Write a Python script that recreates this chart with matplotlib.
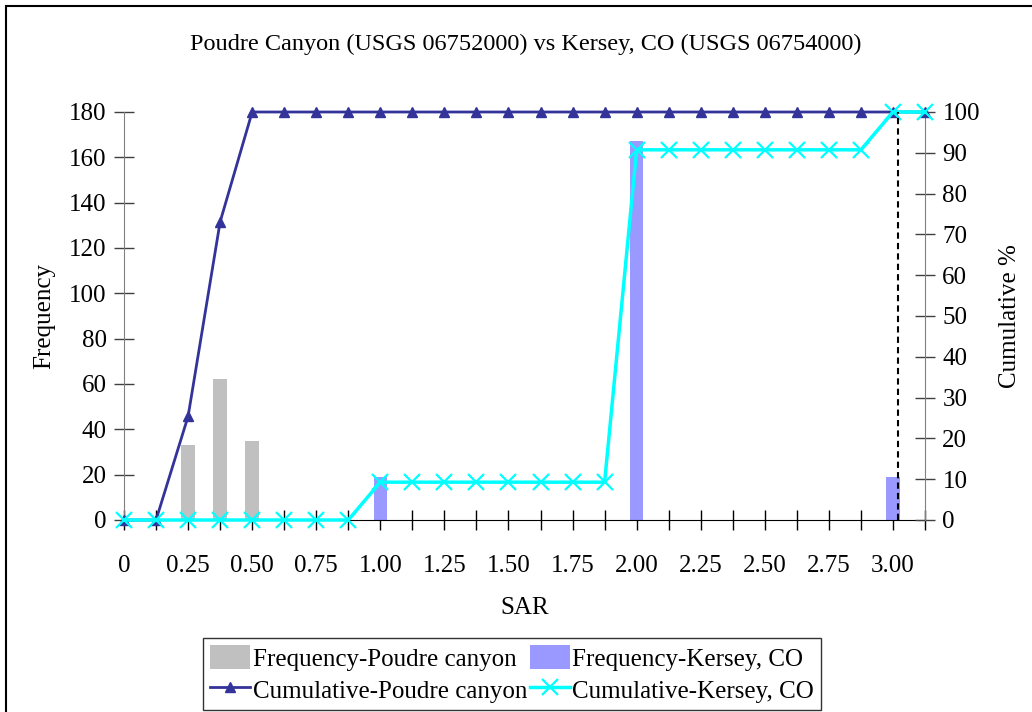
import matplotlib.pyplot as plt
import numpy as np
from matplotlib.patches import Rectangle

plt.rcParams['font.family'] = ['Liberation Serif', 'DejaVu Serif']

# SAR bins, 0 to 3.125 in steps of 0.125
sar = [0, 0.125, 0.25, 0.375, 0.50, 0.625, 0.75, 0.875, 1.00, 1.125, 1.25, 1.375, 1.50,
       1.625, 1.75, 1.875, 2.00, 2.125, 2.25, 2.375, 2.50, 2.625, 2.75, 2.875, 3.00, 3.125]
freq_poudre = [0, 0, 33, 62, 35, 0, 0, 0, 0, 0, 0, 0, 0,
               0, 0, 0, 0, 0, 0, 0, 0, 0, 0, 0, 0, 0]
freq_kersey = [0, 0, 0, 0, 0, 0, 0, 0, 19, 0, 0, 0, 0,
               0, 0, 0, 167, 0, 0, 0, 0, 0, 0, 0, 19, 0]
ref_sar = 3.02

cum_poudre = np.cumsum(freq_poudre) / np.sum(freq_poudre) * 100
cum_kersey = np.cumsum(freq_kersey) / np.sum(freq_kersey) * 100

x = np.arange(len(sar))
step = sar[1] - sar[0]

fig = plt.figure(figsize=(10.32, 7.12), dpi=100)
ax = fig.add_axes([124 / 1032, 1 - 520 / 712, 801 / 1032, 408 / 712])
ax2 = ax.twinx()

b1 = ax.bar(x, freq_poudre, width=0.42, color='#C0C0C0', zorder=2)
b2 = ax.bar(x, freq_kersey, width=0.42, color='#9999FF', zorder=2)

l1, = ax2.plot(x, cum_poudre, color='#333399', lw=2, marker='^', ms=7.5,
               clip_on=False, zorder=3)
l2, = ax2.plot(x, cum_kersey, color='#00FFFF', lw=2.5, marker='x', ms=11,
               mew=1.6, clip_on=False, zorder=4)
ax2.plot([ref_sar / step, ref_sar / step], [0, 100], color='black', lw=1.5,
         ls=(0, (3, 2)), zorder=5)

ax.set_xlim(0, len(sar) - 1)
ax.set_ylim(0, 180)
ax2.set_ylim(0, 100)
ax.set_yticks(range(0, 181, 20))
ax2.set_yticks(range(0, 101, 10))
ax.set_xticks(x)
ax.set_xticklabels(['0' if v == 0 else f'{v:.2f}' if i % 2 == 0 else ''
                    for i, v in enumerate(sar)])

fs = 18
for a in (ax, ax2):
    a.spines['top'].set_visible(False)
    a.tick_params(direction='inout', length=15, width=1, labelsize=fs, pad=5)
ax.tick_params(axis='x', pad=18)
ax.spines['left'].set_color('#808080')
ax2.spines['right'].set_color('#808080')
ax2.spines['left'].set_visible(False)
ax2.spines['bottom'].set_visible(False)
ax.spines['right'].set_visible(False)
ax.tick_params(axis='y', color='#404040')
ax2.tick_params(axis='y', color='#404040')

ax.set_xlabel('SAR', fontsize=fs, labelpad=14)
ax.set_ylabel('Frequency', fontsize=fs, labelpad=10)
ax2.set_ylabel('Cumulative %', fontsize=fs, labelpad=14)
fig.text(0.509, 1 - 44 / 712, 'Poudre Canyon (USGS 06752000) vs Kersey, CO (USGS 06754000)',
         ha='center', va='center', fontsize=17.5)

leg = fig.legend([b1, l1, b2, l2],
                 ['Frequency-Poudre canyon', 'Cumulative-Poudre canyon',
                  'Frequency-Kersey, CO', 'Cumulative-Kersey, CO'],
                 ncol=2, loc='center', bbox_to_anchor=(512 / 1032, 1 - 674 / 712),
                 fontsize=fs, frameon=True, fancybox=False, edgecolor='black',
                 handlelength=1.6, handleheight=1.1, handletextpad=0.1,
                 columnspacing=0.1, labelspacing=0.25, borderpad=0.3)
leg.get_frame().set_linewidth(1)

# outer chart border
fig.patches.append(Rectangle((6 / 1032, -0.1), 1.2, 1 - 6 / 712 + 0.1,
                             transform=fig.transFigure, fill=False,
                             edgecolor='black', lw=1.5))

fig.savefig('out.png', dpi=100)
